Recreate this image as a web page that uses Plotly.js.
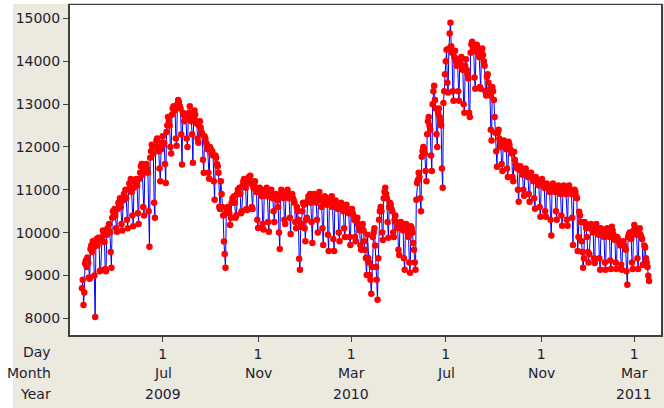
<!DOCTYPE html>
<html>
<head>
<meta charset="utf-8">
<script src="https://cdn.plot.ly/plotly-3.0.1.min.js"></script>
<style>
  html, body { margin: 0; padding: 0; background: #ffffff; }
  #chart { width: 664px; height: 408px; }
</style>
</head>
<body>
<div id="chart"></div>
<script>
// Daily series, first value on Thu 2009-03-19, one value per day
const startDate = '2009-03-19';

// 2009-03-19 .. 2010-03-21 (Thu-Sun, then weeks Mon..Sun)
const dailyValuesA = [
  8700, 8900, 8310, 8600,
  9280, 9350, 9200, 9420, 9300, 8950, 8920,
  9620, 9700, 9550, 9800, 9650, 9000, 8030,
  9750, 9850, 9700, 9880, 9800, 9100, 9120,
  9820, 9900, 10050, 9950, 9780, 9150, 9100,
  9950, 10100, 10050, 10200, 10000, 9550, 9180,
  10350, 10500, 10450, 10550, 10400, 10100, 10020,
  10550, 10700, 10650, 10800, 10600, 10200, 10050,
  10750, 10900, 10850, 11000, 10800, 10300, 10100,
  11000, 11150, 11050, 11250, 10950, 10400, 10150,
  11050, 11200, 11150, 11250, 11100, 10450, 10200,
  11250, 11400, 11550, 11600, 11350, 10600, 10400,
  11450, 11550, 11600, 11500, 11400, 10500, 9670,
  11750, 11900, 12050, 12000, 11850, 10700, 10350,
  12000, 12150, 12200, 12000, 11900, 11500, 11200,
  11950, 12100, 12250, 12050, 12100, 11600, 11160,
  12350, 12500, 12700, 12600, 12500, 12000, 11850,
  12750, 12900, 12950, 12850, 12900, 12200, 12030,
  13000, 13100, 13050, 12950, 12900, 12300, 11590,
  12800, 12750, 12600, 12650, 12700, 12200, 12000,
  12650, 12800, 12950, 12700, 12600, 12300, 11630,
  12700, 12850, 12750, 12600, 12550, 12200, 12100,
  12500, 12600, 12450, 12350, 12300, 11700, 11400,
  12250, 12200, 12100, 12050, 11950, 11400, 11260,
  12000, 11950, 11850, 11900, 11800, 11200, 10770,
  11800, 11750, 11600, 11550, 11400, 10600, 10550,
  11200, 10900, 10600, 10400, 9790, 9500, 9180,
  10450, 10500, 10600, 10550, 10450, 10180, 10350,
  10700, 10800, 10750, 10850, 10700, 10350, 10400,
  10900, 11000, 10950, 11050, 10900, 10450, 10500,
  11100, 11200, 11250, 11150, 11050, 10550, 10530,
  11200, 11300, 11250, 11330, 11150, 10600, 10550,
  11050, 11100, 11200, 11000, 10950, 10300, 10110,
  10950, 11050, 11000, 10900, 10850, 10200, 10070,
  10900, 11000, 10950, 11050, 10850, 10250, 10020,
  10850, 10950, 11000, 10900, 10800, 10500, 10250,
  10800, 10900, 10850, 10750, 10600, 10000, 9620,
  10900, 11000, 10950, 10850, 10800, 10300, 10200,
  10900, 10950, 11000, 10850, 10800, 10350, 9970,
  10850, 10900, 10800, 10750, 10700, 10250, 10100,
  10600, 10500, 10300, 9390, 9130, 10130, 10200,
  10500, 10700, 10650, 10100, 9800, 10300, 10350,
  10750, 10850, 10800, 10900, 10700, 10250, 9760,
  10800, 10900, 10850, 10750, 10700, 10300, 10000,
  10850, 10950, 10800, 10750, 10600, 10100, 9710,
  10700, 10850, 10800, 10700, 10650, 9950, 9570,
  10750, 10800, 10700, 10850, 10600, 9850, 9570,
  10700, 10750, 10650, 10600, 10550, 10000, 9800,
  10650, 10700, 10600, 10550, 10500, 10100, 9900,
  10600, 10650, 10550, 10500, 10450, 9900, 9710,
  10500, 10550, 10450, 10400, 10300, 9900, 9800,
  10300, 10350, 10200, 10150, 10050, 9700, 9600,
  10100, 10200, 10050, 9800, 9600, 9410, 9010
];

// 2010-03-22 .. 2011-03-20 (weeks Mon..Sun)
const dailyValuesB = [
  9950, 9410, 9300, 9010, 8900, 8570, 9200,
  9900, 10000, 10100, 9700, 9200, 8900, 8430,
  9400, 10300, 10500, 10600, 10500, 10000, 9830,
  10800, 10950, 11050, 10900, 10800, 10250, 9880,
  10600, 10700, 10650, 10550, 10500, 10000, 9900,
  10300, 10400, 10250, 10200, 10100, 9600, 9480,
  10200, 10250, 10150, 10100, 10050, 9400, 9130,
  10100, 10200, 10050, 10000, 9900, 9300, 9060,
  10150, 10100, 10000, 9760, 9600, 9300, 9130,
  10770, 11160, 11230, 11400, 11300, 10800, 10500,
  11770, 11900, 12000, 11950, 11850, 11440, 11200,
  12300, 12600, 12700, 12500, 12400, 11800, 11440,
  13000, 13300, 13430, 13100, 12900, 12300, 12000,
  12800, 12900, 12700, 12600, 12500, 11500, 11050,
  13030, 13300, 13700, 14000, 14270, 13500, 13270,
  14300, 14650, 14900, 14350, 14200, 13300, 13080,
  14100, 14250, 14000, 13900, 14050, 13300, 13080,
  14000, 13950, 14100, 13850, 13800, 13000, 12800,
  13900, 14050, 13800, 13700, 13600, 12800, 12700,
  14200, 14400, 14460, 14300, 14250, 13620, 13360,
  14350, 14390, 14200, 14300, 14100, 13400, 13360,
  14250, 14300, 14150, 14000, 13900, 13300, 13200,
  13640, 13700, 13500, 13340, 13200, 12400, 12150,
  13400, 13300, 13100, 12700, 12330, 11900, 11540,
  12330, 12400, 12200, 12120, 12000, 11600, 11440,
  12100, 12150, 12050, 12000, 11950, 11500, 11300,
  12120, 12050, 11950, 11900, 11850, 11300, 11200,
  11890, 11700, 11600, 11550, 11500, 11000, 10720,
  11500, 11550, 11450, 11400, 11350, 11000, 10860,
  11450, 11500, 11400, 11350, 11300, 10900, 10720,
  11350, 11400, 11300, 11250, 11200, 10800, 10560,
  11300, 11250, 11200, 11150, 11100, 10600, 10370,
  11200, 11250, 11150, 11100, 11050, 10500, 10370,
  11150, 11100, 11050, 11000, 10950, 10300, 9930,
  11100, 11150, 11050, 11000, 10950, 10500, 10300,
  11050, 11100, 11000, 10950, 10900, 10400, 10160,
  11000, 11100, 10950, 11050, 10900, 10300, 10160,
  11050, 11100, 11000, 10950, 10900, 10350, 9710,
  10900, 11000, 10950, 10850, 10800, 9570, 9900,
  10490, 10400, 10250, 9800, 9550, 9180, 9400,
  10250, 10200, 10100, 9900, 9550, 9300, 9500,
  10100, 10200, 10150, 10050, 10000, 9400, 9290,
  10150, 10200, 10100, 10050, 9950, 9400, 9130,
  10100, 10050, 10000, 9950, 9900, 9300, 9130,
  10050, 10100, 10000, 9950, 9900, 9350, 9150,
  10140, 10050, 9950, 9900, 9830, 9300, 9150,
  9900, 9850, 9800, 9750, 9700, 9250, 9130,
  9750, 9800, 9700, 9650, 9600, 9100, 8780,
  9900, 9950, 10000, 9900, 9850, 9300, 9150,
  10050, 10180, 10100, 10000, 9950, 9400, 9150,
  10050, 10100, 9950, 9900, 9850, 9250, 9250,
  9700, 9650, 9400, 9300, 9200, 8990, 8870
];

const tickDates = ['2009-07-01', '2009-11-01', '2010-03-01', '2010-07-01', '2010-11-01', '2011-03-01'];
const dayLabels = ['1', '1', '1', '1', '1', '1'];
const monthLabels = ['Jul', 'Nov', 'Mar', 'Jul', 'Nov', 'Mar'];
const yearTickDates = ['2009-07-01', '2010-03-01', '2011-03-01'];
const yearLabels = ['2009', '2010', '2011'];
const yTicks = [8000, 9000, 10000, 11000, 12000, 13000, 14000, 15000];
const yTickLabels = ['8000', '9000', '10000', '11000', '12000', '13000', '14000', '15000'];
const rowLabels = ['Day', 'Month', 'Year'];

const values = dailyValuesA.concat(dailyValuesB);
const t0 = Date.UTC(2009, 2, 19);
const dates = values.map((v, i) => new Date(t0 + i * 86400000).toISOString().slice(0, 10));

const FONT = 'DejaVu Sans, Verdana, sans-serif';
const TXT = '#1e1e30';
const xRange = ['2009-03-03 14:00', '2011-04-04 10:00'];

const trace = {
  type: 'scatter',
  mode: 'lines+markers',
  x: dates,
  y: values,
  line: { color: '#0000ff', width: 1 },
  marker: { color: '#ff0000', size: 6.5, line: { width: 0 } },
  hoverinfo: 'skip'
};

// row y positions (paper coords) for Day / Month / Year
const rowY = [-0.0506, -0.1142, -0.1788];

const annotations = rowLabels.map((lab, i) => ({
  text: lab,
  xref: 'paper', yref: 'paper',
  x: -0.0288, y: rowY[i],
  xanchor: 'right', yanchor: 'middle',
  showarrow: false,
  font: { family: FONT, size: 14, color: TXT }
}));
monthLabels.forEach((m, i) => annotations.push({
  text: m, xref: 'x', yref: 'paper', x: tickDates[i], y: rowY[1],
  xanchor: 'center', yanchor: 'middle', showarrow: false,
  font: { family: FONT, size: 14, color: TXT }
}));
yearLabels.forEach((yr, i) => annotations.push({
  text: yr, xref: 'x', yref: 'paper', x: yearTickDates[i], y: rowY[2],
  xanchor: 'center', yanchor: 'middle', showarrow: false,
  font: { family: FONT, size: 14, color: TXT }
}));

const layout = {
  width: 664,
  height: 408,
  margin: { l: 70, r: 3, t: 5, b: 73, pad: 0 },
  paper_bgcolor: '#ece9df',
  plot_bgcolor: '#ffffff',
  showlegend: false,
  font: { family: FONT, size: 14, color: TXT },
  xaxis: {
    type: 'date',
    range: xRange,
    showgrid: false,
    zeroline: false,
    tickmode: 'array',
    tickvals: tickDates,
    ticktext: dayLabels,
    ticks: 'outside',
    ticklen: 5,
    tickwidth: 1,
    tickcolor: '#404040',
    showline: true,
    mirror: true,
    linecolor: '#404040',
    linewidth: 2,
    tickfont: { family: FONT, size: 14, color: TXT }
  },
  yaxis: {
    range: [7609, 15316],
    tickmode: 'array',
    tickvals: yTicks,
    ticktext: yTickLabels,
    ticks: 'outside',
    ticklen: 5,
    tickwidth: 1,
    tickcolor: '#404040',
    showgrid: false,
    zeroline: false,
    showline: true,
    mirror: true,
    linecolor: '#404040',
    linewidth: 2,
    tickfont: { family: FONT, size: 14, color: TXT }
  },
  shapes: [
    { type: 'rect', xref: 'paper', yref: 'paper', x0: -0.13, x1: -0.0964, y0: -0.25, y1: 1.03,
      fillcolor: '#ffffff', line: { width: 0 }, layer: 'above' },
    { type: 'rect', xref: 'paper', yref: 'paper', x0: -0.13, x1: 1.01, y0: 1.004, y1: 1.03,
      fillcolor: '#ffffff', line: { width: 0 }, layer: 'above' }
  ],
  annotations: annotations
};

Plotly.newPlot('chart', [trace], layout, { staticPlot: true, displayModeBar: false });
</script>
</body>
</html>
